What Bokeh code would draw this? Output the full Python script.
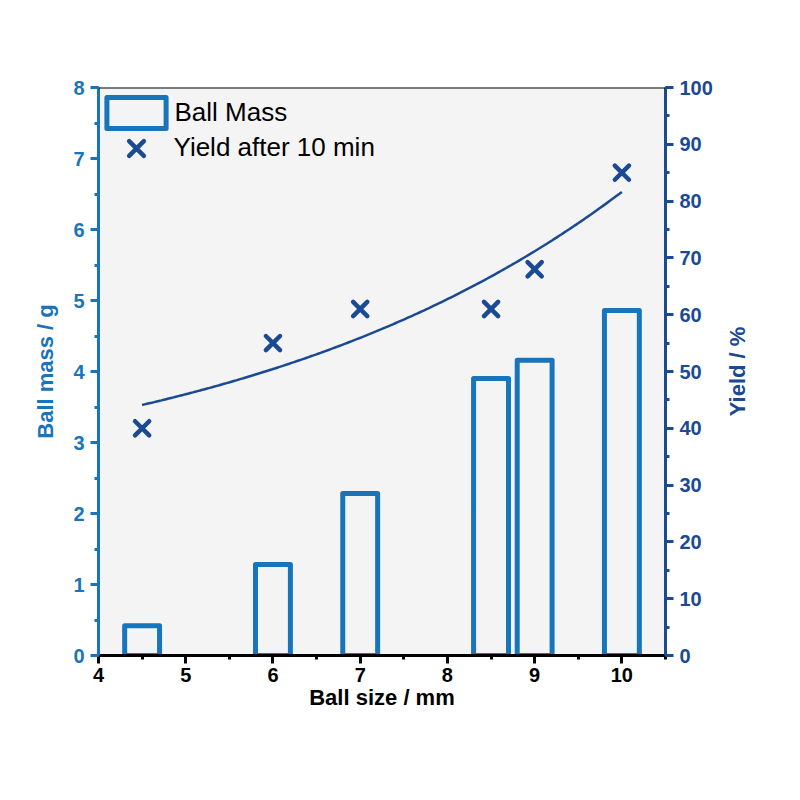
import math
import numpy as np
from bokeh.plotting import figure
from bokeh.models import Range1d, LinearAxis, Legend, LegendItem, SingleIntervalTicker, Span, Label
from bokeh.embed import file_html
from bokeh.resources import INLINE

# ball sizes (mm), ball mass (g), yield after 10 min (%)
ball_size = [4.5, 6, 7, 8.5, 9, 10]
ball_mass = [0.42, 1.28, 2.28, 3.9, 4.16, 4.86]
yield_pct = [40, 55, 61, 61, 68, 85]

LIGHT = "#1874bb"
DARK = "#1b4a94"
FONT = "Liberation Sans"


def exp_growth_fit(x, y):
    # y = y0 + A*exp(b*x), b by grid search, y0 and A by least squares
    x = np.asarray(x, float)
    y = np.asarray(y, float)
    best = None
    for b in np.linspace(0.01, 1.5, 3000):
        M = np.column_stack([np.ones_like(x), np.exp(b * x)])
        coef, *_ = np.linalg.lstsq(M, y, rcond=None)
        res = np.sum((M @ coef - y) ** 2)
        if best is None or res < best[0]:
            best = (res, b, coef)
    return best[1], best[2]


b, (y0, A) = exp_growth_fit(ball_size, yield_pct)
fit_x = np.linspace(min(ball_size), max(ball_size), 200)
fit_y = y0 + A * np.exp(b * fit_x)

p = figure(width=780, height=780, x_range=Range1d(4, 10.5), y_range=Range1d(0, 8),
           output_backend="svg", toolbar_location=None,
           min_border_left=98, min_border_right=115, min_border_top=87, min_border_bottom=125)
p.extra_y_ranges = {"yield": Range1d(0, 100)}
p.background_fill_color = "#f4f4f4"
p.border_fill_color = "white"
p.outline_line_color = None
p.xgrid.visible = False
p.ygrid.visible = False

bars = p.vbar(x=ball_size, top=ball_mass, width=0.4, bottom=0, fill_color=None,
              line_color=LIGHT, line_width=5, line_join="round")
p.line(fit_x, fit_y, y_range_name="yield", line_color=DARK, line_width=2.5)
pts = p.scatter(ball_size, yield_pct, y_range_name="yield", marker="x", size=20,
                line_color=DARK, line_width=4.5, line_cap="round")

p.add_layout(Span(location=8, dimension="width", line_color="black", line_width=2))


def style_axis(ax, color, interval):
    ax.ticker = SingleIntervalTicker(interval=interval, num_minor_ticks=2)
    ax.axis_line_color = color
    ax.axis_line_width = 3
    ax.major_tick_line_color = color
    ax.major_tick_line_width = 3
    ax.minor_tick_line_color = color
    ax.minor_tick_line_width = 3
    ax.major_tick_out = 8
    ax.major_tick_in = 0
    ax.minor_tick_out = 4
    ax.minor_tick_in = 0
    ax.major_label_text_color = color
    ax.major_label_text_font = FONT
    ax.major_label_text_font_style = "bold"
    ax.major_label_text_font_size = "20px"
    ax.axis_label_text_color = color
    ax.axis_label_text_font = FONT
    ax.axis_label_text_font_style = "bold"
    ax.axis_label_text_font_size = "22px"


p.xaxis.axis_label = "Ball size / mm"
style_axis(p.xaxis[0], "black", 1)
p.xaxis.axis_label_standoff = 0
p.xaxis.major_label_standoff = 4

p.yaxis.axis_label = "Ball mass / g"
style_axis(p.yaxis[0], LIGHT, 1)
p.yaxis.axis_label_standoff = 12
p.yaxis.major_label_standoff = 6

right = LinearAxis(y_range_name="yield")
style_axis(right, DARK, 10)
right.major_label_standoff = 6
p.add_layout(right, "right")

# right axis title, reading bottom to top like the left one
yield_title = Label(x=11.33, y=4, text="Yield / %", angle=math.pi / 2,
                    text_align="center", text_baseline="middle", text_color=DARK,
                    text_font=FONT, text_font_style="bold", text_font_size="22px",
                    level="overlay")
p.add_layout(yield_title, "right")

leg_common = dict(padding=0, spacing=0, label_text_font=FONT, label_text_font_size="26px",
                  label_text_color="black", background_fill_alpha=0, border_line_color=None)
legend_mass = Legend(items=[LegendItem(label="Ball Mass", renderers=[bars])],
                     location=(0.5, 523), glyph_width=74, glyph_height=39, label_height=39,
                     label_standoff=2, **leg_common)
legend_yield = Legend(items=[LegendItem(label="Yield after 10 min", renderers=[pts])],
                      location=(11.5, 481.5), glyph_width=52, glyph_height=52, label_height=52,
                      label_standoff=12, **leg_common)
p.add_layout(legend_mass, "center")
p.add_layout(legend_yield, "center")

open("out.html", "w").write(file_html(p, INLINE))
